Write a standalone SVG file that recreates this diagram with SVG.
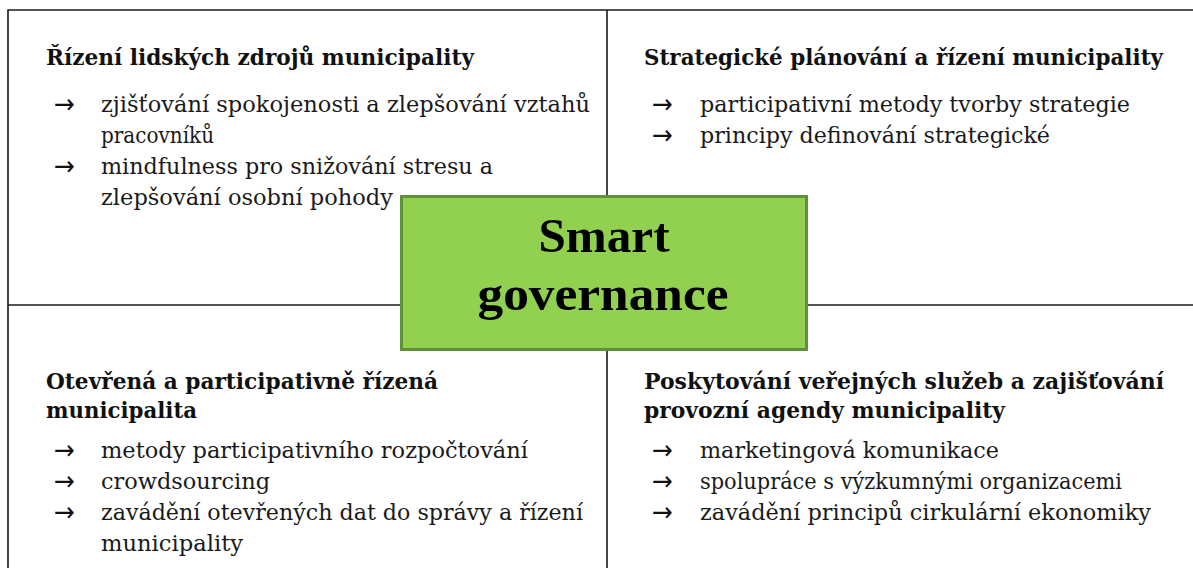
<svg xmlns="http://www.w3.org/2000/svg" width="1193" height="568" viewBox="0 0 1193 568">
  <style>
    .grid { stroke: #1a1a1a; stroke-width: 1.6; fill: none; }
    .head { font-family: "DejaVu Serif", "Liberation Serif", serif; font-weight: bold; font-size: 22.5px; fill: #111; }
    .item { font-family: "DejaVu Serif", "Liberation Serif", serif; font-size: 22px; fill: #1a1a1a; }
    .bullet { font-family: "DejaVu Sans", sans-serif; font-size: 27px; fill: #111; }
    .core { fill: #92d050; stroke: #5e9139; stroke-width: 3; }
    .coretext { font-family: "Liberation Serif", "DejaVu Serif", serif; font-weight: bold; font-size: 49px; fill: #000; text-anchor: middle; }
  </style>

  <rect width="1193" height="568" fill="#ffffff"/>

  <!-- quadrant grid -->
  <g id="connectors">
    <path class="grid" d="M8,568 V10 H1193"/>
    <path class="grid" d="M607,10 V568"/>
    <path class="grid" d="M8,305 H1193"/>
  </g>

  <!-- top left quadrant -->
  <g id="q-hr">
    <text class="head" x="46" y="65" textLength="428" lengthAdjust="spacingAndGlyphs">Řízení lidských zdrojů municipality</text>
    <text class="bullet" x="54" y="113" textLength="21" lengthAdjust="spacingAndGlyphs">→</text>
    <text class="item" x="101" y="112" textLength="489" lengthAdjust="spacingAndGlyphs">zjišťování spokojenosti a zlepšování vztahů</text>
    <text class="item" x="101" y="143" textLength="113" lengthAdjust="spacingAndGlyphs">pracovníků</text>
    <text class="bullet" x="54" y="175" textLength="21" lengthAdjust="spacingAndGlyphs">→</text>
    <text class="item" x="101" y="174" textLength="392" lengthAdjust="spacingAndGlyphs">mindfulness pro snižování stresu a</text>
    <text class="item" x="101" y="205" textLength="292" lengthAdjust="spacingAndGlyphs">zlepšování osobní pohody</text>
  </g>

  <!-- top right quadrant -->
  <g id="q-strategy">
    <text class="head" x="644" y="65" textLength="519" lengthAdjust="spacingAndGlyphs">Strategické plánování a řízení municipality</text>
    <text class="bullet" x="652" y="113" textLength="21" lengthAdjust="spacingAndGlyphs">→</text>
    <text class="item" x="700" y="112" textLength="430" lengthAdjust="spacingAndGlyphs">participativní metody tvorby strategie</text>
    <text class="bullet" x="652" y="144" textLength="21" lengthAdjust="spacingAndGlyphs">→</text>
    <text class="item" x="700" y="143" textLength="350" lengthAdjust="spacingAndGlyphs">principy definování strategické</text>
  </g>

  <!-- bottom left quadrant -->
  <g id="q-open">
    <text class="head" x="46" y="389" textLength="392" lengthAdjust="spacingAndGlyphs">Otevřená a participativně řízená</text>
    <text class="head" x="46" y="418" textLength="151" lengthAdjust="spacingAndGlyphs">municipalita</text>
    <text class="bullet" x="54" y="459" textLength="21" lengthAdjust="spacingAndGlyphs">→</text>
    <text class="item" x="101" y="458" textLength="427" lengthAdjust="spacingAndGlyphs">metody participativního rozpočtování</text>
    <text class="bullet" x="54" y="490" textLength="21" lengthAdjust="spacingAndGlyphs">→</text>
    <text class="item" x="101" y="489" textLength="169" lengthAdjust="spacingAndGlyphs">crowdsourcing</text>
    <text class="bullet" x="54" y="521" textLength="21" lengthAdjust="spacingAndGlyphs">→</text>
    <text class="item" x="101" y="520" textLength="482" lengthAdjust="spacingAndGlyphs">zavádění otevřených dat do správy a řízení</text>
    <text class="item" x="101" y="551" textLength="142" lengthAdjust="spacingAndGlyphs">municipality</text>
  </g>

  <!-- bottom right quadrant -->
  <g id="q-services">
    <text class="head" x="644" y="389" textLength="520" lengthAdjust="spacingAndGlyphs">Poskytování veřejných služeb a zajišťování</text>
    <text class="head" x="644" y="418" textLength="361" lengthAdjust="spacingAndGlyphs">provozní agendy municipality</text>
    <text class="bullet" x="652" y="459" textLength="21" lengthAdjust="spacingAndGlyphs">→</text>
    <text class="item" x="700" y="458" textLength="299" lengthAdjust="spacingAndGlyphs">marketingová komunikace</text>
    <text class="bullet" x="652" y="490" textLength="21" lengthAdjust="spacingAndGlyphs">→</text>
    <text class="item" x="700" y="489" textLength="422" lengthAdjust="spacingAndGlyphs">spolupráce s výzkumnými organizacemi</text>
    <text class="bullet" x="652" y="521" textLength="21" lengthAdjust="spacingAndGlyphs">→</text>
    <text class="item" x="700" y="520" textLength="451" lengthAdjust="spacingAndGlyphs">zavádění principů cirkulární ekonomiky</text>
  </g>

  <!-- central label -->
  <g id="core">
    <rect class="core" x="401.5" y="196.5" width="405" height="153"/>
    <text class="coretext" x="604" y="252" textLength="131" lengthAdjust="spacingAndGlyphs">Smart</text>
    <text class="coretext" x="603" y="310" textLength="251" lengthAdjust="spacingAndGlyphs">governance</text>
  </g>
</svg>
